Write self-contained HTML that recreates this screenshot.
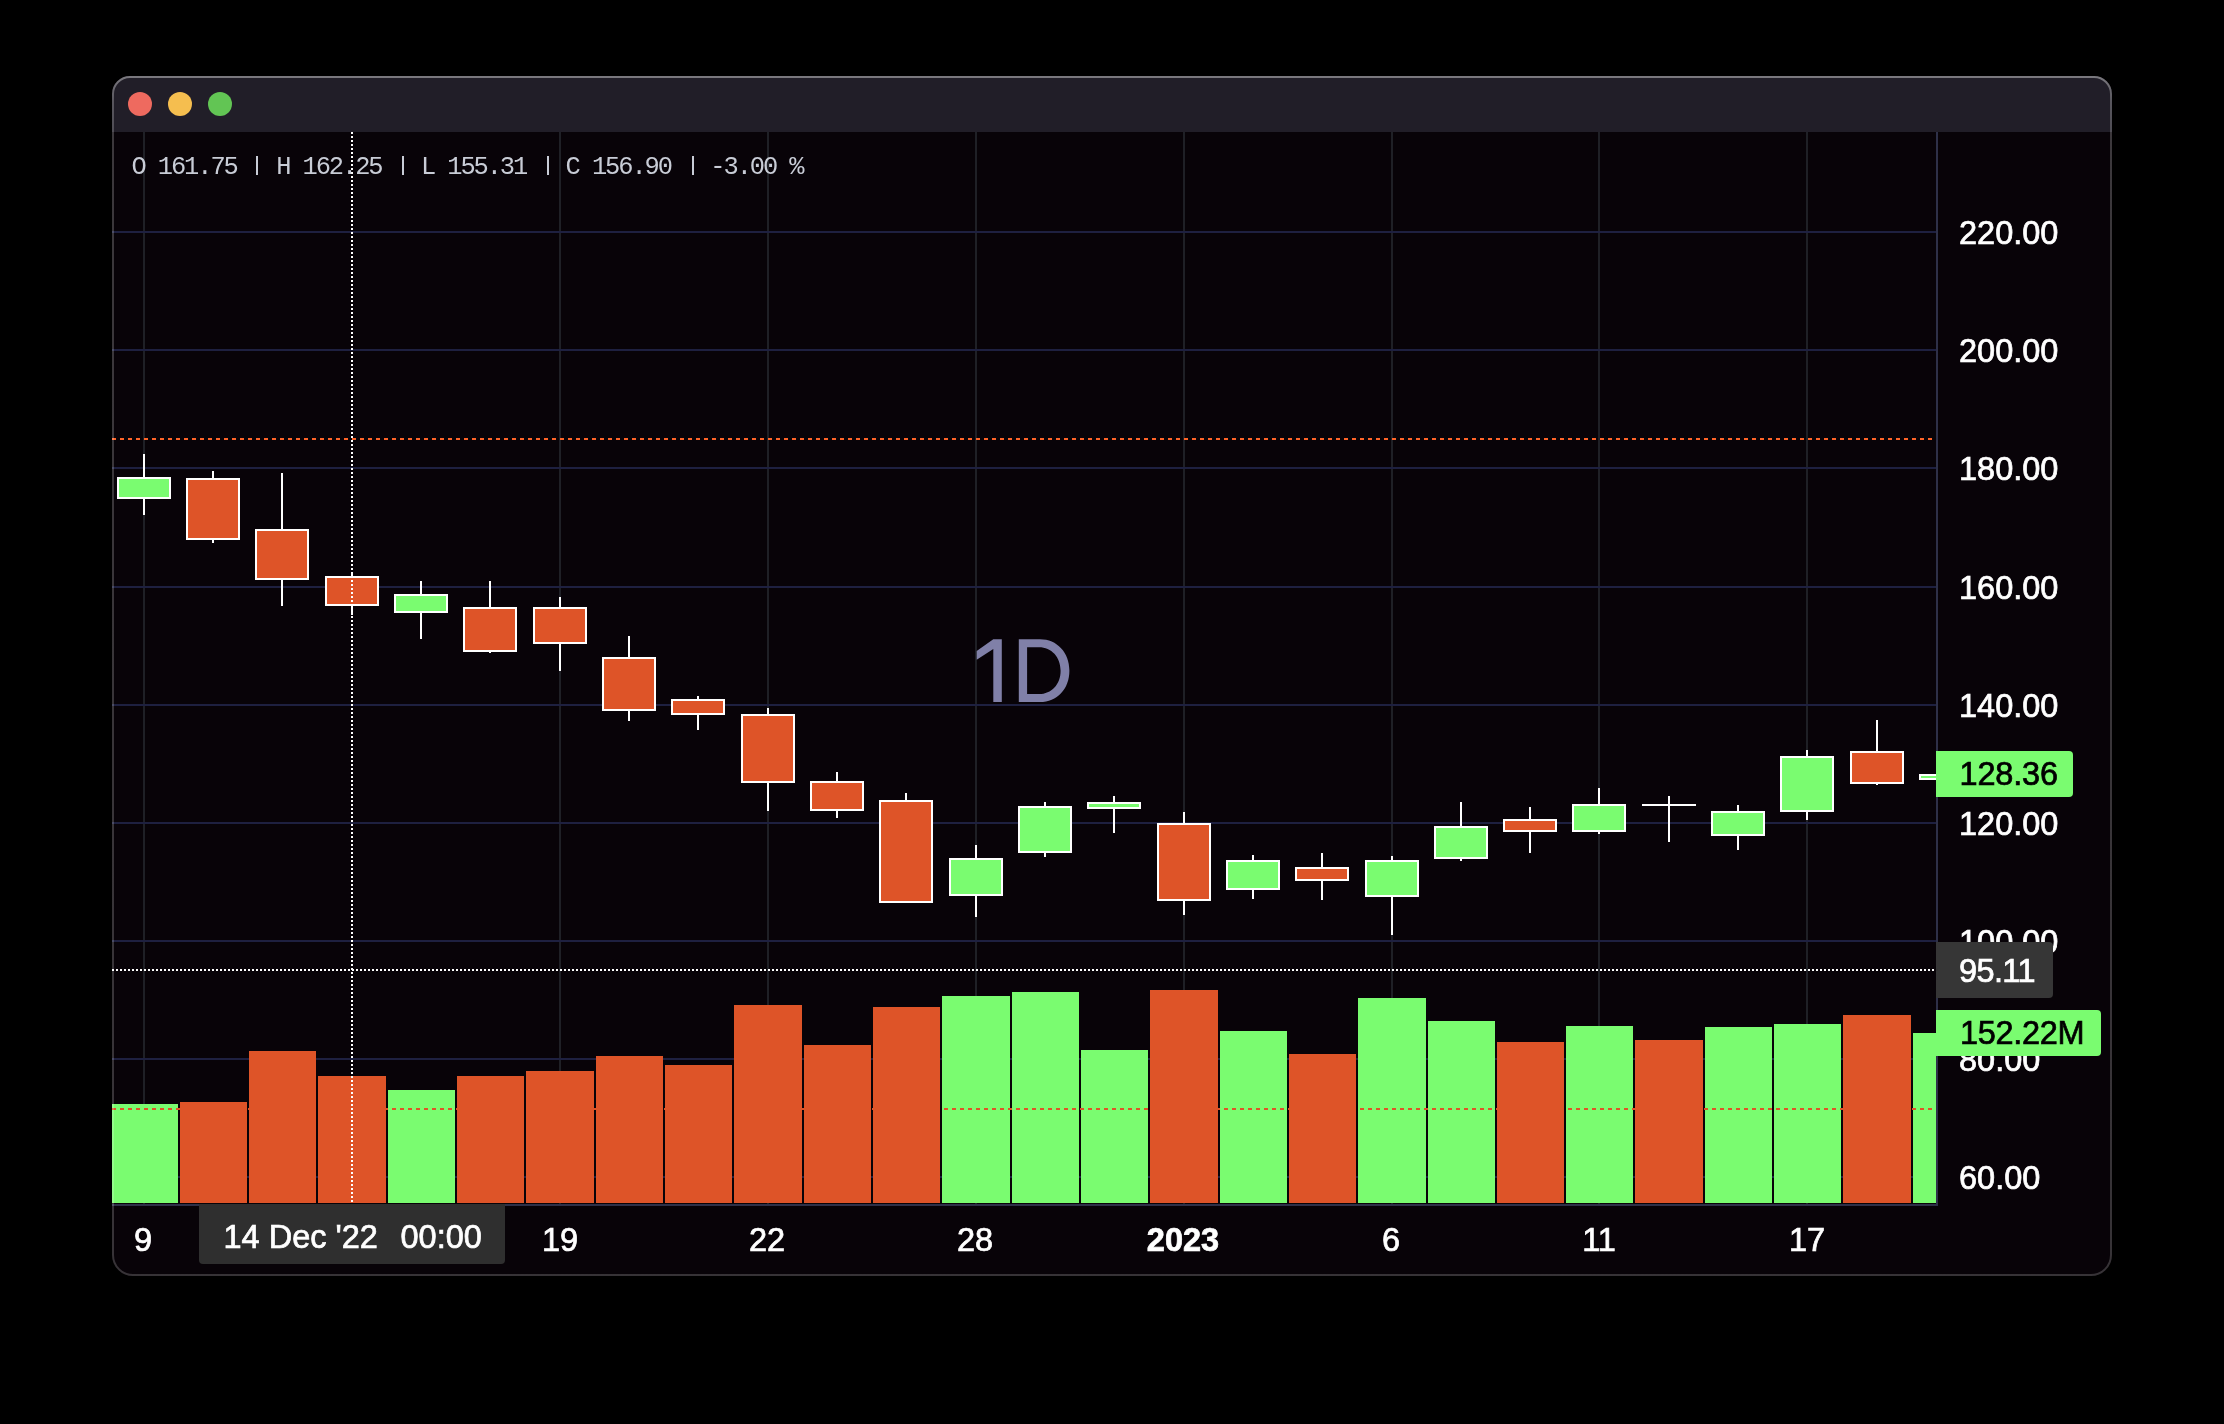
<!DOCTYPE html>
<html><head><meta charset="utf-8">
<style>
html,body{margin:0;padding:0;background:#000;width:2224px;height:1424px;overflow:hidden;}
svg{position:absolute;left:0;top:0;display:block;will-change:transform;}
.ax{font-family:"Liberation Sans",sans-serif;font-size:32.5px;fill:#fff;stroke:#fff;stroke-width:0.7px;}
.leg{font-family:"Liberation Mono",monospace;font-size:25.4px;fill:#c8ccd6;}
</style></head>
<body>
<svg width="2224" height="1424" viewBox="0 0 2224 1424" shape-rendering="crispEdges">
<defs>
<linearGradient id="bd" x1="0" y1="0" x2="0" y2="1">
<stop offset="0" stop-color="#fff" stop-opacity="0.40"/>
<stop offset="0.02" stop-color="#fff" stop-opacity="0.25"/>
<stop offset="0.045" stop-color="#fff" stop-opacity="0.21"/>
<stop offset="1" stop-color="#fff" stop-opacity="0.19"/>
</linearGradient>
<clipPath id="win"><path d="M130 76 H2094 A18 18 0 0 1 2112 94 V1255 A21 21 0 0 1 2091 1276 H133 A21 21 0 0 1 112 1255 V94 A18 18 0 0 1 130 76 Z"/></clipPath>
<clipPath id="pane"><rect x="112" y="132" width="1824" height="1072"/></clipPath>
</defs>
<g clip-path="url(#win)">
<rect x="112" y="76" width="2000" height="1200" fill="#080308"/>
<rect x="112" y="76" width="2000" height="56" fill="#211e28"/>
<g clip-path="url(#pane)">
<rect x="112" y="132" width="1824" height="1072" fill="#080308"/>
<rect x="143" y="132" width="2" height="1072" fill="#1f2026"/>
<rect x="559" y="132" width="2" height="1072" fill="#1f2026"/>
<rect x="767" y="132" width="2" height="1072" fill="#1f2026"/>
<rect x="975" y="132" width="2" height="1072" fill="#1f2026"/>
<rect x="1183" y="132" width="2" height="1072" fill="#1f2026"/>
<rect x="1391" y="132" width="2" height="1072" fill="#1f2026"/>
<rect x="1598" y="132" width="2" height="1072" fill="#1f2026"/>
<rect x="1806" y="132" width="2" height="1072" fill="#1f2026"/>
<rect x="112" y="231" width="1824" height="2" fill="#1e2040"/>
<rect x="112" y="349" width="1824" height="2" fill="#1e2040"/>
<rect x="112" y="467" width="1824" height="2" fill="#1e2040"/>
<rect x="112" y="586" width="1824" height="2" fill="#1e2040"/>
<rect x="112" y="704" width="1824" height="2" fill="#1e2040"/>
<rect x="112" y="822" width="1824" height="2" fill="#1e2040"/>
<rect x="112" y="940" width="1824" height="2" fill="#1e2040"/>
<rect x="112" y="1058" width="1824" height="2" fill="#1e2040"/>
<rect x="112" y="1176" width="1824" height="2" fill="#1e2040"/>
<path fill="#8080a8" fill-rule="evenodd" shape-rendering="geometricPrecision" d="M976.7 651 L993.3 639.2 H1001.8 V702.1 H993.3 V649 L976.7 659.8 Z M1018.8 639.2 H1040 C1057.05 639.2 1069.4 652.4 1069.4 670.65 C1069.4 688.9 1057.05 702.1 1040 702.1 H1018.8 Z M1027.1 647.2 H1039 C1051.5 647.2 1060.6 657.05 1060.6 670.65 C1060.6 684.25 1051.5 694 1039 694 H1027.1 Z"/>
<rect x="112" y="1104" width="66" height="99" fill="#7afc70"/>
<rect x="180" y="1102" width="67" height="101" fill="#de5428"/>
<rect x="249" y="1051" width="67" height="152" fill="#de5428"/>
<rect x="318" y="1076" width="68" height="127" fill="#de5428"/>
<rect x="388" y="1090" width="67" height="113" fill="#7afc70"/>
<rect x="457" y="1076" width="67" height="127" fill="#de5428"/>
<rect x="526" y="1071" width="68" height="132" fill="#de5428"/>
<rect x="596" y="1056" width="67" height="147" fill="#de5428"/>
<rect x="665" y="1065" width="67" height="138" fill="#de5428"/>
<rect x="734" y="1005" width="68" height="198" fill="#de5428"/>
<rect x="804" y="1045" width="67" height="158" fill="#de5428"/>
<rect x="873" y="1007" width="67" height="196" fill="#de5428"/>
<rect x="942" y="996" width="68" height="207" fill="#7afc70"/>
<rect x="1012" y="992" width="67" height="211" fill="#7afc70"/>
<rect x="1081" y="1050" width="67" height="153" fill="#7afc70"/>
<rect x="1150" y="990" width="68" height="213" fill="#de5428"/>
<rect x="1220" y="1031" width="67" height="172" fill="#7afc70"/>
<rect x="1289" y="1054" width="67" height="149" fill="#de5428"/>
<rect x="1358" y="998" width="68" height="205" fill="#7afc70"/>
<rect x="1428" y="1021" width="67" height="182" fill="#7afc70"/>
<rect x="1497" y="1042" width="67" height="161" fill="#de5428"/>
<rect x="1566" y="1026" width="67" height="177" fill="#7afc70"/>
<rect x="1635" y="1040" width="68" height="163" fill="#de5428"/>
<rect x="1705" y="1027" width="67" height="176" fill="#7afc70"/>
<rect x="1774" y="1024" width="67" height="179" fill="#7afc70"/>
<rect x="1843" y="1015" width="68" height="188" fill="#de5428"/>
<rect x="1913" y="1033" width="23" height="170" fill="#7afc70"/>
<line x1="112" y1="1109" x2="1936" y2="1109" stroke="#de5428" stroke-width="2" stroke-dasharray="4 4"/>
<rect x="143" y="454" width="2" height="61" fill="#fff"/>
<rect x="117" y="477" width="54" height="22" fill="#fff"/>
<rect x="119" y="479" width="50" height="18" fill="#7afc70"/>
<rect x="212" y="471" width="2" height="72" fill="#fff"/>
<rect x="186" y="478" width="54" height="62" fill="#fff"/>
<rect x="188" y="480" width="50" height="58" fill="#de5428"/>
<rect x="281" y="473" width="2" height="133" fill="#fff"/>
<rect x="255" y="529" width="54" height="51" fill="#fff"/>
<rect x="257" y="531" width="50" height="47" fill="#de5428"/>
<rect x="351" y="572" width="2" height="43" fill="#fff"/>
<rect x="325" y="576" width="54" height="30" fill="#fff"/>
<rect x="327" y="578" width="50" height="26" fill="#de5428"/>
<rect x="420" y="581" width="2" height="58" fill="#fff"/>
<rect x="394" y="594" width="54" height="19" fill="#fff"/>
<rect x="396" y="596" width="50" height="15" fill="#7afc70"/>
<rect x="489" y="581" width="2" height="72" fill="#fff"/>
<rect x="463" y="607" width="54" height="45" fill="#fff"/>
<rect x="465" y="609" width="50" height="41" fill="#de5428"/>
<rect x="559" y="597" width="2" height="74" fill="#fff"/>
<rect x="533" y="607" width="54" height="37" fill="#fff"/>
<rect x="535" y="609" width="50" height="33" fill="#de5428"/>
<rect x="628" y="636" width="2" height="85" fill="#fff"/>
<rect x="602" y="657" width="54" height="54" fill="#fff"/>
<rect x="604" y="659" width="50" height="50" fill="#de5428"/>
<rect x="697" y="696" width="2" height="34" fill="#fff"/>
<rect x="671" y="699" width="54" height="16" fill="#fff"/>
<rect x="673" y="701" width="50" height="12" fill="#de5428"/>
<rect x="767" y="708" width="2" height="103" fill="#fff"/>
<rect x="741" y="714" width="54" height="69" fill="#fff"/>
<rect x="743" y="716" width="50" height="65" fill="#de5428"/>
<rect x="836" y="772" width="2" height="46" fill="#fff"/>
<rect x="810" y="781" width="54" height="30" fill="#fff"/>
<rect x="812" y="783" width="50" height="26" fill="#de5428"/>
<rect x="905" y="793" width="2" height="110" fill="#fff"/>
<rect x="879" y="800" width="54" height="103" fill="#fff"/>
<rect x="881" y="802" width="50" height="99" fill="#de5428"/>
<rect x="975" y="845" width="2" height="72" fill="#fff"/>
<rect x="949" y="858" width="54" height="38" fill="#fff"/>
<rect x="951" y="860" width="50" height="34" fill="#7afc70"/>
<rect x="1044" y="802" width="2" height="55" fill="#fff"/>
<rect x="1018" y="806" width="54" height="47" fill="#fff"/>
<rect x="1020" y="808" width="50" height="43" fill="#7afc70"/>
<rect x="1113" y="796" width="2" height="37" fill="#fff"/>
<rect x="1087" y="802" width="54" height="7" fill="#fff"/>
<rect x="1089" y="804" width="50" height="3" fill="#7afc70"/>
<rect x="1183" y="812" width="2" height="103" fill="#fff"/>
<rect x="1157" y="823" width="54" height="78" fill="#fff"/>
<rect x="1159" y="825" width="50" height="74" fill="#de5428"/>
<rect x="1252" y="855" width="2" height="44" fill="#fff"/>
<rect x="1226" y="860" width="54" height="30" fill="#fff"/>
<rect x="1228" y="862" width="50" height="26" fill="#7afc70"/>
<rect x="1321" y="853" width="2" height="47" fill="#fff"/>
<rect x="1295" y="867" width="54" height="14" fill="#fff"/>
<rect x="1297" y="869" width="50" height="10" fill="#de5428"/>
<rect x="1391" y="856" width="2" height="79" fill="#fff"/>
<rect x="1365" y="860" width="54" height="37" fill="#fff"/>
<rect x="1367" y="862" width="50" height="33" fill="#7afc70"/>
<rect x="1460" y="802" width="2" height="59" fill="#fff"/>
<rect x="1434" y="826" width="54" height="33" fill="#fff"/>
<rect x="1436" y="828" width="50" height="29" fill="#7afc70"/>
<rect x="1529" y="807" width="2" height="46" fill="#fff"/>
<rect x="1503" y="819" width="54" height="13" fill="#fff"/>
<rect x="1505" y="821" width="50" height="9" fill="#de5428"/>
<rect x="1598" y="788" width="2" height="46" fill="#fff"/>
<rect x="1572" y="804" width="54" height="28" fill="#fff"/>
<rect x="1574" y="806" width="50" height="24" fill="#7afc70"/>
<rect x="1642" y="804" width="54" height="2" fill="#fff"/>
<rect x="1668" y="796" width="2" height="46" fill="#fff"/>
<rect x="1737" y="805" width="2" height="45" fill="#fff"/>
<rect x="1711" y="811" width="54" height="25" fill="#fff"/>
<rect x="1713" y="813" width="50" height="21" fill="#7afc70"/>
<rect x="1806" y="750" width="2" height="70" fill="#fff"/>
<rect x="1780" y="756" width="54" height="56" fill="#fff"/>
<rect x="1782" y="758" width="50" height="52" fill="#7afc70"/>
<rect x="1876" y="720" width="2" height="65" fill="#fff"/>
<rect x="1850" y="751" width="54" height="33" fill="#fff"/>
<rect x="1852" y="753" width="50" height="29" fill="#de5428"/>
<rect x="1945" y="774" width="2" height="6" fill="#fff"/>
<rect x="1919" y="774" width="54" height="6" fill="#fff"/>
<rect x="1921" y="776" width="50" height="2" fill="#7afc70"/>
<line x1="112" y1="439" x2="1936" y2="439" stroke="#ff6428" stroke-width="2" stroke-dasharray="4 4"/>
<line x1="352" y1="132" x2="352" y2="1204" stroke="#fff" stroke-width="2" stroke-dasharray="2 2"/>
<line x1="112" y1="970" x2="1936" y2="970" stroke="#fff" stroke-width="2" stroke-dasharray="2 2"/>
</g>
<g shape-rendering="geometricPrecision">
<rect x="1936" y="132" width="2" height="1074" fill="#2e3048"/>
<rect x="112" y="1204" width="1826" height="2" fill="#2e3048"/>
<text x="1959" y="244" class="ax">220.00</text>
<text x="1959" y="362" class="ax">200.00</text>
<text x="1959" y="480" class="ax">180.00</text>
<text x="1959" y="599" class="ax">160.00</text>
<text x="1959" y="717" class="ax">140.00</text>
<text x="1959" y="835" class="ax">120.00</text>
<text x="1959" y="953" class="ax">100.00</text>
<text x="1959" y="1071" class="ax">80.00</text>
<text x="1959" y="1189" class="ax">60.00</text>
<path d="M1936 751 H2069 a4 4 0 0 1 4 4 V793 a4 4 0 0 1 -4 4 H1936 Z" fill="#7afc70"/>
<text x="1959.5" y="785" class="ax" style="fill:#000;stroke:#000" textLength="98.5" lengthAdjust="spacing">128.36</text>
<path d="M1936 942 H2049 a4 4 0 0 1 4 4 V994 a4 4 0 0 1 -4 4 H1936 Z" fill="#363636"/>
<text x="1959" y="981.5" class="ax" textLength="76.5" lengthAdjust="spacing">95.11</text>
<path d="M1936 1010 H2097 a4 4 0 0 1 4 4 V1052 a4 4 0 0 1 -4 4 H1936 Z" fill="#7afc70"/>
<text x="1960" y="1044" class="ax" style="fill:#000;stroke:#000" textLength="124.5" lengthAdjust="spacing">152.22M</text>
<text x="143" y="1250.5" class="ax" text-anchor="middle">9</text>
<text x="560" y="1250.5" class="ax" text-anchor="middle">19</text>
<text x="767" y="1250.5" class="ax" text-anchor="middle">22</text>
<text x="975" y="1250.5" class="ax" text-anchor="middle">28</text>
<text x="1183" y="1250.5" class="ax" text-anchor="middle" font-weight="bold">2023</text>
<text x="1391" y="1250.5" class="ax" text-anchor="middle">6</text>
<text x="1599" y="1250.5" class="ax" text-anchor="middle">11</text>
<text x="1807" y="1250.5" class="ax" text-anchor="middle">17</text>
<path d="M199 1204 H505 V1260 a4 4 0 0 1 -4 4 H203 a4 4 0 0 1 -4 -4 Z" fill="#2f2f2f"/>
<text x="223.5" y="1248" class="ax">14 Dec '22</text>
<text x="400.5" y="1248" class="ax">00:00</text>
</g>
<text x="131.5" y="174" class="leg" textLength="673" lengthAdjust="spacing" xml:space="preserve">O 161.75   H 162.25   L 155.31   C 156.90   -3.00 %</text>
<rect x="256" y="156" width="2" height="18.5" fill="#c8ccd6"/>
<rect x="401.5" y="156" width="2" height="18.5" fill="#c8ccd6"/>
<rect x="546.5" y="156" width="2" height="18.5" fill="#c8ccd6"/>
<rect x="691.5" y="156" width="2" height="18.5" fill="#c8ccd6"/>
</g>
<path d="M130 77 H2094 A17 17 0 0 1 2111 94 V1255 A20 20 0 0 1 2091 1275 H133 A20 20 0 0 1 113 1255 V94 A17 17 0 0 1 130 77 Z" fill="none" stroke="url(#bd)" stroke-width="2" shape-rendering="geometricPrecision"/>
<g shape-rendering="geometricPrecision">
<circle cx="140" cy="104" r="12" fill="#ee6a5f"/>
<circle cx="180" cy="104" r="12" fill="#f5be4f"/>
<circle cx="220" cy="104" r="12" fill="#62c554"/>
</g>
</svg>
</body></html>
